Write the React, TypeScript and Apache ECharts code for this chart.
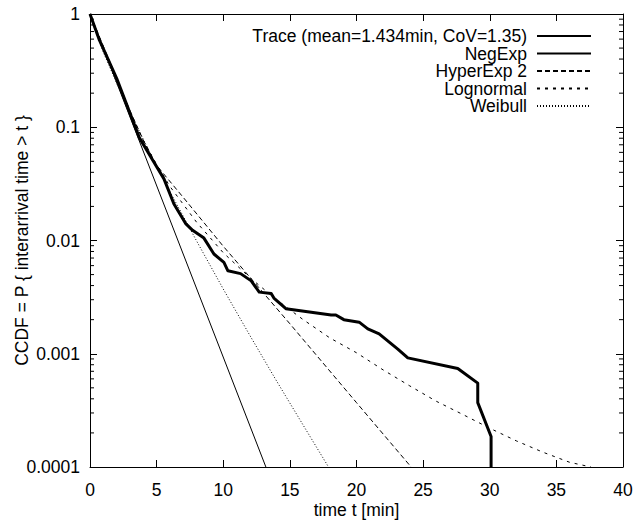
import React, { useEffect, useRef } from "react";
import * as echarts from "echarts";

const seriesNames = [
  "Trace (mean=1.434min, CoV=1.35)",
  "NegExp",
  "HyperExp 2",
  "Lognormal",
  "Weibull",
];

const traceData: [number, number][] = [
  [0, 1], [0.7, 0.59], [2, 0.27], [3.7, 0.081], [4.8, 0.049], [5.55, 0.035],
  [6.3, 0.021], [7.2, 0.014], [7.7, 0.0123], [8.55, 0.0105], [9.3, 0.0076],
  [10.05, 0.0064], [10.35, 0.0054], [11.3, 0.0051], [12.1, 0.0044],
  [12.7, 0.0035], [13.6, 0.0034], [13.8, 0.0031], [14.7, 0.0025],
  [18.1, 0.0022], [18.45, 0.0022], [19.05, 0.002], [20.2, 0.0019],
  [20.85, 0.00166], [21.7, 0.0015], [23.1, 0.0011], [23.85, 0.00092],
  [27.6, 0.00074], [29.1, 0.00055], [29.1, 0.00037], [30.1, 0.000186],
  [30.1, 0.0001],
];

const negExpData: [number, number][] = [
  [0, 1], [13.2, 0.0001],
];

const hyperExpData: [number, number][] = [
  [0, 1], [1, 0.52], [2, 0.27], [3, 0.14], [4, 0.077], [5, 0.046],
  [7, 0.024], [10, 0.0089], [15, 0.00184], [20, 0.00037], [24.1, 0.0001],
];

const lognormalData: [number, number][] = [
  [0, 1], [1, 0.51], [2, 0.263], [3, 0.138], [4, 0.076], [5, 0.047],
  [6, 0.03], [8, 0.0145], [10, 0.0078], [12, 0.0047], [14, 0.003],
  [16, 0.002], [18, 0.00138], [20, 0.00102], [22, 0.00072], [24, 0.00052],
  [26, 0.00038], [28, 0.00029], [30, 0.00022], [32, 0.00017],
  [34, 0.000135], [36, 0.00011], [37.6, 0.0001],
];

const weibullData: [number, number][] = [
  [0, 1], [1, 0.46], [2, 0.245], [3, 0.136], [4, 0.078], [5, 0.0457],
  [6, 0.027], [8, 0.0099], [10, 0.00373], [12, 0.00145], [14, 0.000575],
  [16, 0.000234], [17.9, 0.0001],
];

const xTicks = [0, 5, 10, 15, 20, 25, 30, 35, 40];
const yTickLabels = ["0.0001", "0.001", "0.01", "0.1", "1"];
const minorMultipliers = [2, 3, 4, 5, 6, 7, 8, 9];
const decades = [0.0001, 0.001, 0.01, 0.1];

const FONT = "'Liberation Sans', Arial, Helvetica, sans-serif";

export default function App() {
  const ref = useRef<HTMLDivElement>(null);
  useEffect(() => {
    if (!ref.current) return;
    const chart = echarts.init(ref.current, undefined, { renderer: "svg" });
    const minorData: [number, number][] = [];
    decades.forEach((d) =>
      minorMultipliers.forEach((m) => minorData.push([0, d * m]))
    );
    const commonText = { color: "#000", fontFamily: FONT, fontSize: 17.5 };
    const lineBase = { type: "line", symbol: "none", showSymbol: false, smooth: false };
    const axisLine = { show: true, onZero: false, lineStyle: { color: "#000", width: 1 } };
    const axisTick = { show: true, inside: true, length: 7, lineStyle: { color: "#000" } };
    chart.setOption({
      animation: false,
      backgroundColor: "#fff",
      textStyle: { fontFamily: FONT },
      grid: {
        left: 90,
        right: 20,
        top: 14,
        bottom: 58,
        containLabel: false,
        outerBoundsMode: "none",
      },
      legend: {
        data: seriesNames,
        orient: "vertical",
        right: 46,
        top: 22,
        align: "right",
        itemWidth: 54,
        itemHeight: 14,
        itemGap: -0.5,
        itemStyle: { opacity: 0 },
        textStyle: { ...commonText, padding: [0, 5, 0, 0] },
        selectedMode: false,
      },
      xAxis: [
        {
          type: "value",
          min: xTicks[0],
          max: xTicks[xTicks.length - 1],
          interval: 5,
          position: "bottom",
          name: "time t [min]",
          nameLocation: "middle",
          nameGap: 34,
          nameMoveOverlap: false,
          nameTextStyle: commonText,
          axisLine,
          axisTick,
          axisLabel: { ...commonText, margin: 14 },
          splitLine: { show: false },
        },
        {
          type: "value",
          min: xTicks[0],
          max: xTicks[xTicks.length - 1],
          interval: 5,
          position: "top",
          axisLine,
          axisTick,
          axisLabel: { show: false },
          splitLine: { show: false },
        },
      ],
      yAxis: [
        {
          type: "log",
          logBase: 10,
          min: 0.0001,
          max: 1,
          position: "left",
          name: "CCDF = P { interarrival time > t }",
          nameLocation: "middle",
          nameGap: 59,
          nameMoveOverlap: false,
          nameTextStyle: commonText,
          axisLine,
          axisTick,
          axisLabel: {
            ...commonText,
            margin: 10,
            formatter: (v: number) => {
              const i = Math.round(Math.log10(v)) + 4;
              return yTickLabels[i] ?? "";
            },
          },
          splitLine: { show: false },
          minorTick: { show: false },
        },
        {
          type: "log",
          logBase: 10,
          min: 0.0001,
          max: 1,
          position: "right",
          axisLine,
          axisTick,
          axisLabel: { show: false },
          splitLine: { show: false },
        },
      ],
      series: [
        {
          name: "minorTicks",
          type: "custom",
          xAxisIndex: 0,
          yAxisIndex: 0,
          silent: true,
          clip: false,
          data: minorData,
          renderItem: (_params: any, api: any) => {
            const v = api.value(1);
            const pl = api.coord([xTicks[0], v]);
            const pr = api.coord([xTicks[xTicks.length - 1], v]);
            return {
              type: "group",
              children: [
                {
                  type: "line",
                  shape: { x1: pl[0], y1: pl[1], x2: pl[0] + 4, y2: pl[1] },
                  style: { stroke: "#000", lineWidth: 1 },
                },
                {
                  type: "line",
                  shape: { x1: pr[0], y1: pr[1], x2: pr[0] - 4, y2: pr[1] },
                  style: { stroke: "#000", lineWidth: 1 },
                },
              ],
            };
          },
        },
        {
          ...lineBase,
          name: seriesNames[1],
          data: negExpData,
          z: 3,
          lineStyle: { color: "#000", width: 1, type: "solid" },
          itemStyle: { color: "#000" },
        },
        {
          ...lineBase,
          name: seriesNames[2],
          data: hyperExpData,
          z: 3,
          lineStyle: { color: "#000", width: 1, type: [5, 3] },
          itemStyle: { color: "#000" },
        },
        {
          ...lineBase,
          name: seriesNames[3],
          data: lognormalData,
          z: 3,
          lineStyle: { color: "#000", width: 1, type: [3, 5] },
          itemStyle: { color: "#000" },
        },
        {
          ...lineBase,
          name: seriesNames[4],
          data: weibullData,
          z: 3,
          lineStyle: { color: "#000", width: 1, type: [1, 2] },
          itemStyle: { color: "#000" },
        },
        {
          ...lineBase,
          name: seriesNames[0],
          data: traceData,
          z: 4,
          lineStyle: { color: "#000", width: 3, type: "solid", join: "round" },
          itemStyle: { color: "#000" },
        },
      ],
    });
    return () => chart.dispose();
  }, []);
  return (
    <div
      ref={ref}
      style={{ position: "fixed", left: 0, top: 0, width: 643, height: 525, background: "#fff" }}
    />
  );
}
